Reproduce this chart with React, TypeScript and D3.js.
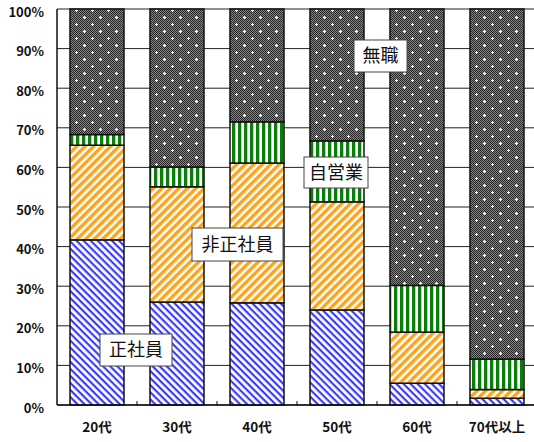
import React from "react";
import * as d3 from "d3";

const categories = ["20代", "30代", "40代", "50代", "60代", "70代以上"];
const seriesNames = ["正社員", "非正社員", "自営業", "無職"];
const seikoyo = [41.7, 26.0, 25.8, 24.0, 5.5, 1.7];
const hiseiki = [23.9, 29.1, 35.3, 27.3, 12.9, 2.2];
const jiei = [2.7, 5.0, 10.4, 15.4, 11.8, 7.7];
const mushoku = [31.7, 39.9, 28.5, 33.3, 69.8, 88.4];
const yTicks = [0, 10, 20, 30, 40, 50, 60, 70, 80, 90, 100];

const W = 534;
const H = 442;
const left = 57;
const right = 537;
const top = 9;
const bottom = 405;

const fills = ["url(#pBlue)", "url(#pOrange)", "url(#pGreen)", "url(#pGray)"];

const labelBoxes = [
  { text: "正社員", cx: 136, cy: 350, w: 72, h: 32 },
  { text: "非正社員", cx: 237.5, cy: 244.5, w: 91, h: 33 },
  { text: "自営業", cx: 336, cy: 172.5, w: 64, h: 31 },
  { text: "無職", cx: 380.5, cy: 56, w: 53, h: 32 },
];

const font = "'Noto Sans CJK JP', 'Noto Sans', sans-serif";

export default function App() {
  const table = categories.map((c, i) => ({
    cat: c,
    正社員: seikoyo[i],
    非正社員: hiseiki[i],
    自営業: jiei[i],
    無職: mushoku[i],
  }));
  const stack = d3.stack<any>().keys(seriesNames)(table);
  const x = d3
    .scaleBand<string>()
    .domain(categories)
    .range([left, right])
    .paddingInner(0.325)
    .paddingOuter(0.1625);
  const y = d3.scaleLinear().domain([0, 100]).range([bottom, top]);
  const step = x.step();

  return (
    <svg width={W} height={H} style={{ position: "absolute", left: 0, top: 0 }}>
      <defs>
        <pattern id="pBlue" width="5" height="5" patternUnits="userSpaceOnUse" patternTransform="rotate(45)">
          <rect width="5" height="5" fill="#fff" />
          <rect width="5" height="2.2" fill="#3b3bff" />
        </pattern>
        <pattern id="pOrange" width="6" height="6" patternUnits="userSpaceOnUse" patternTransform="rotate(-45)">
          <rect width="6" height="6" fill="#fff" />
          <rect width="6" height="3.4" fill="#ffa31a" />
        </pattern>
        <pattern id="pGreen" width="6" height="6" patternUnits="userSpaceOnUse" x="70">
          <rect width="6" height="6" fill="#fff" />
          <rect width="3.3" height="6" fill="#0a7d0a" />
        </pattern>
        <pattern id="pChecker" width="2" height="2" patternUnits="userSpaceOnUse">
          <rect width="2" height="2" fill="#858585" />
          <rect width="1" height="1" fill="#262626" />
          <rect x="1" y="1" width="1" height="1" fill="#262626" />
        </pattern>
        <pattern id="pGray" width="16" height="14" patternUnits="userSpaceOnUse">
          <rect width="16" height="14" fill="url(#pChecker)" />
          <g fill="#fff">
            <rect x="3" y="3" width="3" height="1" />
            <rect x="4" y="2" width="1" height="3" />
            <rect x="11" y="10" width="3" height="1" />
            <rect x="12" y="9" width="1" height="3" />
          </g>
        </pattern>
      </defs>

      {/* gridlines */}
      {yTicks.map((t) => (
        <line key={"g" + t} x1={left} x2={right} y1={y(t)} y2={y(t)} stroke="#222" strokeWidth={1} />
      ))}

      {/* bars */}
      {stack.map((s, si) =>
        s.map((d, i) => (
          <rect
            key={si + "-" + i}
            x={x(categories[i])!}
            y={y(d[1])}
            width={x.bandwidth()}
            height={y(d[0]) - y(d[1])}
            fill={fills[si]}
            stroke="#111"
            strokeWidth={1.5}
          />
        ))
      )}

      {/* axes */}
      <line x1={left} x2={left} y1={top} y2={bottom} stroke="#111" strokeWidth={1.5} />
      <line x1={left} x2={right} y1={bottom} y2={bottom} stroke="#111" strokeWidth={1.5} />
      {categories.map((c, i) => (
        <line
          key={"xt" + i}
          x1={left + step * (i + 1)}
          x2={left + step * (i + 1)}
          y1={bottom}
          y2={bottom - 4}
          stroke="#111"
        />
      ))}
      {yTicks.map((t) => (
        <text
          key={"yl" + t}
          x={44}
          y={y(t) + 3}
          dy="0.35em"
          textAnchor="end"
          fontFamily={font}
          fontSize={13}
          fontWeight={600}
          fill="#111"
        >
          {t}%
        </text>
      ))}
      {categories.map((c) => (
        <text
          key={"xl" + c}
          x={x(c)! + x.bandwidth() / 2}
          y={427}
          dy="0.35em"
          textAnchor="middle"
          fontFamily={font}
          fontSize={13.5}
          fontWeight={600}
          fill="#111"
        >
          {c}
        </text>
      ))}

      {/* labels */}
      {labelBoxes.map((l) => (
        <g key={l.text}>
          <rect
            x={l.cx - l.w / 2}
            y={l.cy - l.h / 2}
            width={l.w}
            height={l.h}
            fill="#fff"
            stroke="#444"
            strokeWidth={1}
          />
          <text
            x={l.cx}
            y={l.cy}
            dy="0.36em"
            textAnchor="middle"
            fontFamily={font}
            fontSize={18}
            fill="#111"
          >
            {l.text}
          </text>
        </g>
      ))}
    </svg>
  );
}
